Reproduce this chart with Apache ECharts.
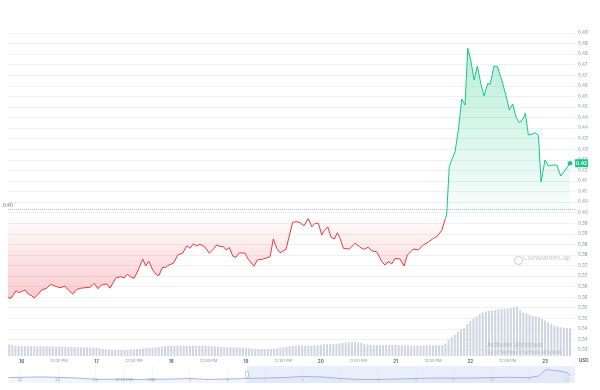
<!DOCTYPE html>
<html><head><meta charset="utf-8">
<script src="https://cdn.jsdelivr.net/npm/echarts@6/dist/echarts.min.js"></script>
<style>html,body{margin:0;padding:0;background:#fff}#c{width:600px;height:390px}</style>
</head><body><div id="c"></div>
<script>
// ---- main price line (hours from Mar 16 00:00) ----
const priceHours = [-4.40,-3.43,-2.70,-1.83,-1.09,-0.32,1.06,2.12,3.21,4.04,
5.01,6.42,8.03,9.31,10.69,12.30,13.90,14.96,16.37,17.66,
19.26,21.93,23.31,24.40,25.68,27.29,28.35,30.27,31.78,32.84,
33.90,34.99,36.05,37.43,38.84,39.81,40.77,42.05,43.34,44.08,
45.14,46.23,47.29,48.67,50.08,51.69,52.97,54.03,55.09,56.18,
57.24,58.84,60.22,61.32,62.60,63.66,64.72,65.59,66.64,67.74,
68.80,69.86,71.69,72.74,74.57,75.63,77.56,79.71,80.77,81.86,
82.92,84.85,86.13,87.00,88.28,89.34,90.63,91.27,92.01,93.10,
94.16,95.22,96.31,97.14,98.23,99.29,100.35,101.32,102.18,103.24,
105.17,107.00,108.38,109.66,111.27,112.36,113.96,115.57,116.63,117.69,
118.78,119.84,121.44,122.73,123.79,125.71,127.32,128.92,130.53,131.94,
133.42,134.83,135.89,136.40,137.24,138.04,139.10,140.16,141.25,142.31,
143.18,144.14,145.20,146.26,147.35,148.41,149.60,150.34,151.62,152.68,
154.09,155.47,156.53,157.62,158.68,159.74,160.83,161.67,162.63,163.72,
164.78,165.84,166.71,167.99,169.05,170.14,171.75,173.03,174.41,176.02];
const prices = [0.3573,0.3571,0.3586,0.3607,0.3598,0.3601,0.3611,0.3590,0.3583,0.3571,
0.3586,0.3611,0.3619,0.3638,0.3630,0.3622,0.3629,0.3611,0.3591,0.3614,
0.3620,0.3624,0.3643,0.3617,0.3635,0.3640,0.3620,0.3670,0.3675,0.3669,
0.3687,0.3675,0.3667,0.3708,0.3761,0.3727,0.3751,0.3708,0.3683,0.3682,
0.3719,0.3721,0.3732,0.3740,0.3780,0.3789,0.3825,0.3813,0.3834,0.3824,
0.3833,0.3818,0.3789,0.3805,0.3829,0.3821,0.3821,0.3805,0.3816,0.3775,
0.3769,0.3791,0.3789,0.3759,0.3726,0.3756,0.3761,0.3772,0.3858,0.3813,
0.3791,0.3808,0.3888,0.3939,0.3942,0.3937,0.3922,0.3931,0.3958,0.3917,
0.3934,0.3934,0.3877,0.3898,0.3917,0.3866,0.3858,0.3888,0.3861,0.3813,
0.3809,0.3837,0.3821,0.3808,0.3818,0.3800,0.3796,0.3748,0.3732,0.3748,
0.3737,0.3764,0.3761,0.3727,0.3780,0.3809,0.3805,0.3829,0.3843,0.3859,
0.3872,0.3899,0.3952,0.3974,0.4208,0.4241,0.4281,0.4386,0.4536,0.4507,
0.4782,0.4725,0.4628,0.4696,0.4612,0.4551,0.4612,0.4607,0.4696,0.4693,
0.4628,0.4551,0.4483,0.4512,0.4448,0.4421,0.4438,0.4467,0.4362,0.4365,
0.4373,0.4362,0.4135,0.4241,0.4212,0.4216,0.4216,0.4163,0.4192,0.4225];
const baselinePrice = 0.3960;

// ---- hourly volume bars (first bar at hour -4, one per hour) ----
const volumeStartHour = -4;
const volumes = [11.7,11.0,10.3,10.0,10.0,10.0,9.8,9.8,9.7,9.7,
9.7,9.6,9.6,9.5,9.5,9.4,9.4,9.3,9.2,9.0,
8.9,8.8,8.7,8.7,8.6,8.6,8.5,8.4,8.2,7.6,
7.0,6.6,6.4,6.3,6.2,6.1,6.1,6.2,6.3,6.4,
6.6,6.8,7.2,7.6,7.8,8.0,8.2,8.6,9.0,9.4,
9.8,10.0,10.1,10.2,10.2,10.3,10.3,10.2,10.2,10.1,
10.1,10.2,10.3,10.2,10.1,10.0,9.6,9.2,8.8,8.7,
8.7,8.6,8.6,8.6,8.5,8.4,8.2,7.8,7.4,7.1,
7.0,7.0,7.1,7.2,7.3,7.4,7.8,8.2,8.7,9.2,
9.8,10.2,10.3,10.3,10.3,10.3,10.4,10.4,10.5,10.8,
11.2,11.5,11.7,11.9,12.0,12.2,12.6,13.0,13.5,13.7,
13.8,13.7,13.5,13.0,12.0,11.3,11.0,10.8,10.8,10.8,
10.9,11.0,11.0,11.0,11.0,10.9,10.5,10.4,10.4,10.4,
10.4,10.4,10.4,10.5,10.6,10.7,10.8,10.8,10.9,11.0,
12.5,16,19,21,24.5,26.5,28,32,35,37.5,
39.5,42,43.5,44.5,45,45.5,46,46.5,47,47.3,
47.6,48,48.5,49.3,45.5,43.5,42.5,41.5,40.3,39.5,
39,37,35.5,33.5,32,30.5,29.5,28.8,28.3,28,27.7];

// ---- axis ticks ----
const dayTickHours = [0,12,24,36,48,60,72,84,96,108,120,132,144,156,168];
const dayTickLabels = ['16','12:00 PM','17','12:00 PM','18','12:00 PM','19','12:00 PM','20','12:00 PM','21','12:00 PM','22','12:00 PM','23'];
const priceTickStart = 0.332, priceTickStep = 0.00512, priceTickCount = 30;

// ---- navigator (days from Feb 22) ----
const navDays = [-0.6,0,1,2,3,4,5,6,7,8,9,10,11,12,13,14,15,16,17,18,19,20,21,22,23,24,25,26,27,27.5,27.8,28,28.3,28.6,29,29.2];
const navPrices = [0.378,0.380,0.384,0.380,0.373,0.359,0.359,0.357,0.359,0.362,0.368,0.357,0.362,0.368,0.373,0.378,0.389,0.384,0.368,0.357,0.357,0.362,0.368,0.373,0.373,0.373,0.378,0.380,0.378,0.394,0.447,0.465,0.453,0.447,0.431,0.400];
const navTickDays = [0,2,4,5.5,7,9,11,13,15,17,19,21,23,25,27,29];
const navTickLabels = ['22','24','26','12:00 PM','Mar','3','5','7','9','11','13','15','17','19','21','23'];
const navWindow = [12.04, 29.44];

const RED = '#ea3943', GREEN = '#16c784';
const pMax = Math.max(...prices), pMin = Math.min(...prices);
const off = (pMax - baselinePrice) / (pMax - pMin);
const lastH = priceHours[priceHours.length - 1], lastP = prices[prices.length - 1];

const chart = echarts.init(document.getElementById('c'), null, {renderer: 'canvas'});
const FONT = 'Inter, "Noto Sans", sans-serif';
chart.setOption({
  animation: false,
  textStyle: {fontFamily: FONT},
  grid: [
    {left: 8, right: 25, top: 33, bottom: 40},
    {left: 8, right: 25, top: 300, bottom: 34},
    {left: 8, right: 25, top: 366, bottom: 7}
  ],
  xAxis: [
    {type: 'value', gridIndex: 0, min: -4.4, max: 177.6, show: false},
    {type: 'value', gridIndex: 1, min: -4.4, max: 177.6,
     axisLine: {show: false}, axisTick: {show: false, customValues: dayTickHours}, splitLine: {show: false},
     axisLabel: {customValues: dayTickHours, fontSize: 4, color: '#8a93a3', margin: 3,
       formatter: v => { const i = dayTickHours.indexOf(v); const s = i >= 0 ? dayTickLabels[i] : ''; return s.indexOf(':') < 0 ? '{b|' + s + '}' : s; },
       rich: {b: {fontSize: 4.5, fontWeight: 'bold', color: '#58667e'}}}},
    {type: 'value', gridIndex: 2, min: -0.64, max: 29.44,
     axisLine: {show: false}, axisTick: {show: false, customValues: navTickDays},
     splitLine: {show: true, lineStyle: {color: '#eef0f5', width: 0.6}},
     axisLabel: {inside: true, customValues: navTickDays, fontSize: 4, color: '#8a93a3', margin: 1.5,
       formatter: v => { const i = navTickDays.indexOf(v); return i >= 0 ? navTickLabels[i] : ''; }}}
  ],
  yAxis: [
    {type: 'value', gridIndex: 0, position: 'right', min: priceTickStart, max: +(priceTickStart + priceTickCount * priceTickStep).toFixed(5), interval: priceTickStep,
     axisLine: {show: false}, axisTick: {show: false},
     splitLine: {lineStyle: {color: '#eff1f4', width: 1}},
     axisLabel: {fontSize: 4.5, color: '#8a93a3', margin: 3, formatter: v => v.toFixed(2)}},
    {type: 'value', gridIndex: 1, min: 0, max: 56, show: false},
    {type: 'value', gridIndex: 2, min: 0.32, max: 0.50, show: false}
  ],
  series: [
    {type: 'line', xAxisIndex: 0, yAxisIndex: 0, z: 5, symbol: 'none',
     data: priceHours.map((h, i) => [h, prices[i]]),
     lineStyle: {width: 1, color: {type: 'linear', x: 0, y: 0, x2: 0, y2: 1, colorStops: [
       {offset: 0, color: GREEN}, {offset: off, color: GREEN}, {offset: off, color: RED}, {offset: 1, color: RED}]}},
     areaStyle: {origin: baselinePrice, opacity: 1, color: {type: 'linear', x: 0, y: 0, x2: 0, y2: 1, colorStops: [
       {offset: 0, color: 'rgba(22,199,132,0.30)'}, {offset: off, color: 'rgba(22,199,132,0.02)'},
       {offset: off, color: 'rgba(234,57,67,0.02)'}, {offset: 1, color: 'rgba(234,57,67,0.26)'}]}},
     markLine: {silent: true, symbol: 'none', lineStyle: {type: 'dotted', color: '#b3b9c4', width: 1},
       label: {position: 'insideStartTop', distance: [-5, 2], fontSize: 4.5, color: '#58667e', formatter: () => baselinePrice.toFixed(2)},
       data: [{yAxis: baselinePrice}]},
     markPoint: {silent: true, data: [
       {coord: [lastH, lastP], symbol: 'circle', symbolSize: 4.5, itemStyle: {color: GREEN}, label: {show: false}},
       {coord: [lastH, lastP], symbol: 'rect', symbolSize: [13, 8], symbolOffset: [11.5, 0], itemStyle: {color: GREEN},
        label: {show: true, position: 'inside', color: '#fff', fontSize: 4.8, fontWeight: 'bold', formatter: () => lastP.toFixed(2)}}
     ]}},
    {type: 'bar', xAxisIndex: 1, yAxisIndex: 1, barWidth: 2, z: 1,
     itemStyle: {color: '#cfd5e0'},
     data: volumes.map((v, i) => [volumeStartHour + i, v])},
    {type: 'line', xAxisIndex: 2, yAxisIndex: 2, symbol: 'none',
     data: navDays.map((d, i) => [d, navPrices[i]]),
     lineStyle: {width: 0.8, color: '#93a5e0'},
     areaStyle: {color: 'rgba(200,212,245,0.35)'},
     markArea: {silent: true, itemStyle: {color: 'rgba(215,224,248,0.55)'}, data: [[{xAxis: navWindow[0]}, {xAxis: navWindow[1]}]]},
     markPoint: {silent: true, data: [{coord: [navWindow[0], 0.41], symbol: 'roundRect', symbolSize: [3, 6],
       itemStyle: {color: '#fff', borderColor: '#a0a8b8', borderWidth: 0.6}, label: {show: false}}]}}
  ],
  graphic: [
    {type: 'text', left: 579, top: 358.5, style: {text: 'USD', fontSize: 4.5, fontWeight: 'bold', fill: '#58667e', fontFamily: FONT}, silent: true},
    {type: 'circle', left: 512, top: 254, shape: {r: 4}, style: {fill: 'none', stroke: '#c9cdda', lineWidth: 1}, silent: true},
    {type: 'text', left: 523, top: 255, style: {text: 'CoinMarketCap', fontSize: 6.5, fill: '#c5c9d6', fontFamily: FONT}, silent: true},
    {type: 'text', left: 487, top: 342, z: 100, style: {text: 'Activate Windows', fontSize: 7, fill: 'rgba(150,155,165,0.55)', fontFamily: 'Liberation Sans, sans-serif'}, silent: true},
    {type: 'text', left: 487, top: 350, z: 100, style: {text: 'Go to Settings to activate Windows.', fontSize: 4.8, fill: 'rgba(150,155,165,0.55)', fontFamily: 'Liberation Sans, sans-serif'}, silent: true}
  ]
});
</script></body></html>
